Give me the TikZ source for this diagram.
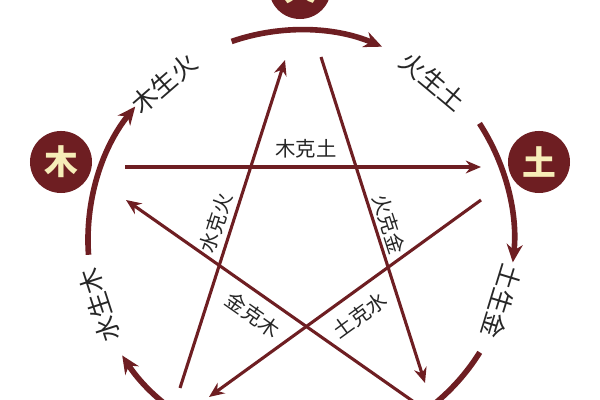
\documentclass[tikz,border=0pt]{standalone}
\usepackage{fontspec}
\newfontfamily\cjk{Noto Sans CJK SC}
\usetikzlibrary{arrows.meta, calc}
\definecolor{wxred}{HTML}{6E1E22}
\definecolor{wxcream}{HTML}{F6EDB8}
\tikzset{
    element/.style={circle, fill=wxred, minimum size=1.55cm, inner sep=0pt, text=wxcream, font=\cjk\bfseries\fontsize{24}{24}\selectfont},
    sheng/.style={wxred, line width=4pt, -{Stealth[length=0.45cm, width=0.4cm]}},
    ke/.style={wxred, line width=2.2pt, -{Stealth[length=0.38cm, width=0.32cm]}},
    outerlabel/.style={font=\cjk\fontsize{18}{18}\selectfont, text=black!85},
    innerlabel/.style={font=\cjk\fontsize{14.5}{14.5}\selectfont, text=black!85}
}
\begin{document}
\begin{tikzpicture}[x=0.025cm, y=0.025cm]
    \useasboundingbox (0,0) rectangle (600,400);
    \clip (0,0) rectangle (600,400);

    \coordinate (c) at (300,160);

    % elements
    \node[element] (huo) at (300,412) {火};
    \node[element] (mu) at (61,238) {木};
    \node[element] (tu) at (539,238) {土};

    % sheng cycle
    \draw[sheng] ($(c)+(109:210)$) arc (109:67:210);
    \draw[sheng] ($(c)+(33:214)$) arc (33:-6:214);
    \draw[sheng, -] ($(c)+(-32:212)$) arc (-32:-72:212);
    \draw[sheng] ($(c)+(-112:212)$) arc (-112:-147:212);
    \draw[sheng] ($(c)+(184:212)$) arc (184:141:212);

    \node[outerlabel, rotate=41] (mshl) at ($(c)+(131:207)$) {木生火};
    \node[outerlabel, rotate=-40] (hstl) at ($(c)+(50:207)$) {火生土};
    \node[outerlabel, rotate=-107] (tsjl) at ($(c)+(-17:211)$) {土生金};
    \node[outerlabel, rotate=108] (ssml) at ($(c)+(198:211)$) {水生木};

    % ke cycle
    \coordinate (k1a) at (125,233);
    \coordinate (k1b) at (481,233);
    \coordinate (k2a) at (321,343);
    \coordinate (k2b) at (425,17);
    \coordinate (k3a) at (481,200);
    \coordinate (k3b) at (209,3);
    \coordinate (k4a) at (414,-2);
    \coordinate (k4b) at (126,200);
    \coordinate (k5a) at (180,12);
    \coordinate (k5b) at (285,340);

    \draw[ke] (k1a) -- (k1b);
    \draw[ke] (k2a) -- (k2b);
    \draw[ke] (k3a) -- (k3b);
    \draw[ke] (k4a) -- (k4b);
    \draw[ke] (k5a) -- (k5b);

    \node[innerlabel] (mkt) at (306,251) {木克土};
    \node[innerlabel, rotate=-72] (hkj) at (389,176) {火克金};
    \node[innerlabel, rotate=72] (skh) at (216,177) {水克火};
    \node[innerlabel, rotate=-35] (jkm) at (253,85) {金克木};
    \node[innerlabel, rotate=36] (tks) at (360,85) {土克水};
\end{tikzpicture}
\end{document}
